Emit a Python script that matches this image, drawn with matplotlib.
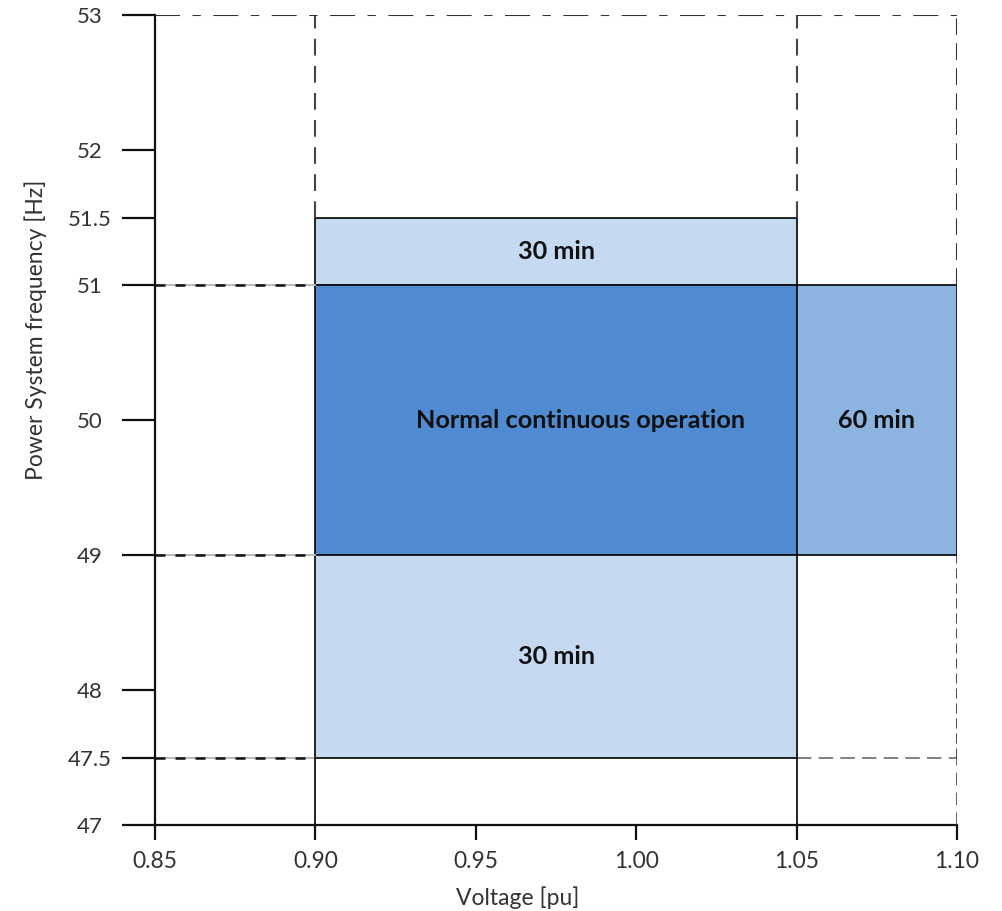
import matplotlib
matplotlib.use("Agg")
import matplotlib.pyplot as plt
from matplotlib.patches import Rectangle

plt.rcParams['font.family'] = ['Lato', 'DejaVu Sans']

# Data
x_ticks = [0.85, 0.90, 0.95, 1.00, 1.05, 1.10]
x_tick_labels = ["0.85", "0.90", "0.95", "1.00", "1.05", "1.10"]
y_ticks = [47, 47.5, 48, 49, 50, 51, 51.5, 52, 53]
y_tick_labels = ["47", "47.5", "48", "49", "50", "51", "51.5", "52", "53"]

# Regions
region_labels = ["30 min", "Normal continuous operation", "60 min", "30 min"]
region_v_min = [0.90, 0.90, 1.05, 0.90]
region_v_max = [1.05, 1.05, 1.10, 1.05]
region_f_min = [51.0, 49.0, 49.0, 47.5]
region_f_max = [51.5, 51.0, 51.0, 49.0]
region_colors = ["#C5D9F0", "#508BD1", "#8DB3E1", "#C5D9F0"]

xlim = (0.85, 1.10)
ylim = (47, 53)

fig = plt.figure(figsize=(10.03, 9.11), dpi=100)
W, H = 1003, 911
ax = fig.add_axes([155 / W, (H - 825) / H, (957 - 155) / W, (825 - 15) / H])
ax.set_xlim(*xlim)
ax.set_ylim(*ylim)

label_shift = [0.0, 0.0075, 0.0, 0.0]  # small horizontal nudges of labels
for x0, x1, y0, y1, lab, c, dx in zip(region_v_min, region_v_max, region_f_min,
                                       region_f_max, region_labels, region_colors,
                                       label_shift):
    ax.add_patch(Rectangle((x0, y0), x1 - x0, y1 - y0, facecolor=c,
                           edgecolor="#111111", linewidth=1.3, zorder=2))
    ax.text((x0 + x1) / 2 + dx, (y0 + y1) / 2, lab, ha="center", va="center",
            fontsize=18.2, fontweight="bold", color="#111111", zorder=5)

dash_kw = dict(color="#111111", linewidth=1.8, linestyle=(0, (4, 4)), zorder=3)
under_kw = dict(color="#bbbbbb", linewidth=1.5, zorder=2.5)

# Dashed horizontal guides on left side
for y in [51, 49, 47.5]:
    ax.plot([0.85, 0.90], [y, y], **under_kw)
    ax.plot([0.85, 0.90], [y, y], **dash_kw)
# right-bottom dashed
ax.plot([1.05, 1.10], [47.5, 47.5], color="#777777", linewidth=1.3,
        linestyle=(0, (8, 4)), zorder=3)

# Vertical dashed lines upper
ax.plot([0.90, 0.90], [51.5, 53], color="#444444", linewidth=1.5,
        linestyle=(0, (8, 5)), zorder=3)
ax.plot([1.05, 1.05], [51.5, 53], color="#444444", linewidth=1.5,
        linestyle=(0, (8, 5)), zorder=3)
ax.plot([1.10, 1.10], [51, 53], color="#333333", linewidth=1.5,
        linestyle=(0, (8, 4)), zorder=3)
# Right lower
ax.plot([1.10, 1.10], [47.5, 49], color="#111111", linewidth=1.8,
        linestyle=(0, (4, 2)), zorder=3)
ax.plot([1.10, 1.10], [47, 47.5], color="#555555", linewidth=1.3,
        linestyle=(0, (7, 4)), zorder=3)
# Solid verticals below
ax.plot([0.90, 0.90], [47, 47.5], color="#111111", linewidth=1.3, zorder=3)
ax.plot([1.05, 1.05], [47, 47.5], color="#111111", linewidth=1.3, zorder=3)
# Top dash-dot line
ax.plot([0.85, 1.10], [53, 53], color="#333333", linewidth=1.5,
        linestyle=(0, (12, 6, 4, 6)), zorder=3)

for s in ["top", "right"]:
    ax.spines[s].set_visible(False)
for s in ["left", "bottom"]:
    ax.spines[s].set_linewidth(1.6)
    ax.spines[s].set_color("#111111")

ax.set_xticks(x_ticks)
ax.set_xticklabels(x_tick_labels)
ax.set_yticks(y_ticks)
ax.set_yticklabels(y_tick_labels, ha="center")
ax.tick_params(axis="y", length=24, width=1.6, direction="out", pad=23,
               labelsize=16, colors="#111111", labelcolor="#333333")
ax.tick_params(axis="x", length=11, width=1.6, direction="out", pad=8,
               labelsize=16.5, colors="#111111", labelcolor="#333333")

ax.set_xlabel("Voltage [pu]", fontsize=16.5, color="#333333", va="center")
ax.xaxis.set_label_coords(0.4526, -0.090)
ax.set_ylabel("Power System frequency [Hz]", fontsize=16.5, color="#333333",
              va="center")
ax.yaxis.set_label_coords(-0.1484, 0.611)

fig.savefig("out.png", dpi=100)
